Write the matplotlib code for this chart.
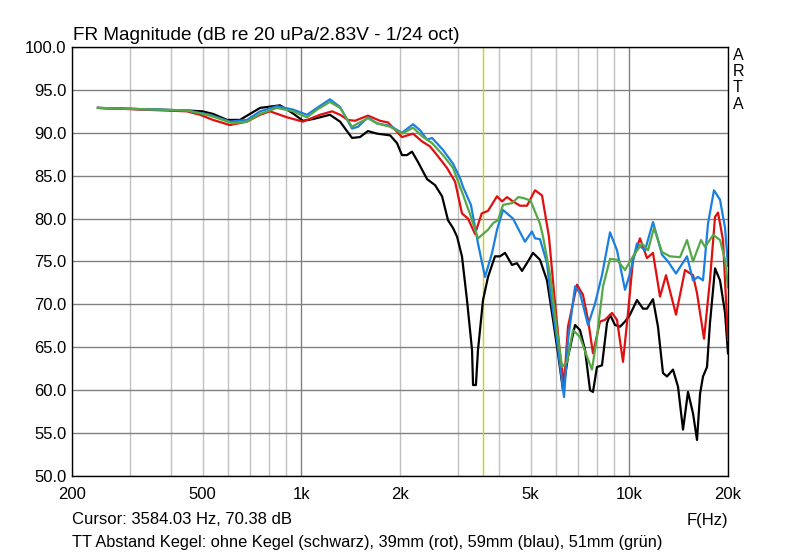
import matplotlib.pyplot as plt
from matplotlib.ticker import FixedLocator, FixedFormatter, NullFormatter

plt.rcParams["font.family"] = ["Liberation Sans", "DejaVu Sans"]

# ARTA-Messung, Werte (Hz, dB)
black_f = [240, 448, 500, 538, 594, 650, 749, 861, 940, 1012, 1086, 1223, 1313, 1428,
           1510, 1597, 1702, 1866, 1958, 2028, 2100, 2176, 2269, 2418, 2558, 2687, 2802,
           2902, 2985, 3090, 3201, 3316, 3340, 3408, 3458, 3582, 3710, 3896, 4036, 4181,
           4390, 4546, 4710, 4911, 5088, 5343, 5613, 5856, 6063, 6281, 6504, 6836, 7078,
           7330, 7593, 7751, 7971, 8258, 8552, 8737, 9047, 9372, 9707, 10052, 10558,
           11012, 11324, 11814, 12234, 12670, 13032, 13594, 14082, 14584, 15102, 15644,
           16090, 16440, 16782, 17260, 17620, 18260, 18910, 19590, 20000]
black_db = [92.9, 92.6, 92.5, 92.2, 91.5, 91.5, 92.9, 93.2, 92.3, 91.4, 91.6, 92.1, 91.3,
            89.4, 89.5, 90.2, 89.9, 89.7, 88.8, 87.4, 87.4, 87.8, 86.6, 84.6, 83.9, 82.6,
            79.8, 78.9, 77.9, 75.6, 70.5, 64.7, 60.6, 60.6, 64.7, 70.5, 73.2, 75.6, 75.6,
            76.0, 74.6, 74.8, 73.9, 75.0, 76.0, 75.2, 72.8, 68.2, 64.3, 60.0, 63.9, 67.6,
            67.0, 64.7, 60.0, 59.8, 62.7, 62.9, 67.8, 68.8, 67.6, 67.4, 68.0, 68.8, 70.5,
            69.5, 69.5, 70.6, 67.4, 62.0, 61.6, 62.4, 60.4, 55.4, 59.8, 57.3, 54.2, 59.6,
            61.6, 62.7, 67.8, 74.2, 72.8, 69.0, 64.3]

red_f = [240, 448, 491, 538, 606, 683, 749, 803, 905, 1012, 1141, 1241, 1313, 1388, 1458,
         1597, 1738, 1839, 2028, 2192, 2334, 2470, 2594, 2782, 2944, 3090, 3224, 3387,
         3549, 3710, 3952, 4093, 4239, 4421, 4643, 4877, 5160, 5420, 5690, 5940, 6149,
         6325, 6504, 6927, 7228, 7487, 7751, 8144, 8433, 8860, 9176, 9571, 9912, 10266,
         10780, 11324, 11814, 12410, 12942, 13884, 14790, 15644, 16090, 16900, 17620,
         18260, 18644, 19312, 20000]
red_db = [92.9, 92.5, 92.1, 91.5, 90.9, 91.3, 92.1, 92.5, 91.8, 91.3, 92.1, 92.5, 92.1,
          91.5, 91.4, 92.0, 91.4, 91.2, 89.5, 89.9, 89.0, 88.4, 87.4, 85.9, 84.3, 80.6,
          80.0, 78.2, 80.6, 80.9, 82.6, 82.0, 82.5, 82.0, 81.5, 81.5, 83.3, 82.7, 77.9,
          70.1, 64.3, 60.6, 67.4, 72.3, 71.1, 68.2, 64.3, 68.0, 68.2, 69.0, 68.2, 63.3,
          69.0, 75.2, 77.7, 75.4, 76.0, 70.9, 73.4, 68.8, 74.0, 73.4, 71.3, 66.0, 72.8,
          80.2, 80.7, 77.5, 65.8]

blue_f = [240, 448, 527, 606, 683, 749, 843, 944, 1041, 1117, 1223, 1313, 1428, 1489,
          1597, 1702, 1866, 2028, 2192, 2302, 2418, 2504, 2705, 2902, 3049, 3112, 3290,
          3458, 3632, 3817, 3952, 4122, 4421, 4809, 5051, 5160, 5343, 5613, 5733, 6021,
          6325, 6504, 6836, 7078, 7487, 7863, 8258, 8737, 9176, 9707, 10052, 10558, 11170,
          11814, 12582, 13126, 13884, 14998, 15644, 16202, 16782, 17380, 18126, 18910,
          19590, 20000]
blue_db = [92.9, 92.6, 92.1, 91.3, 91.5, 92.5, 93.1, 92.7, 92.1, 92.9, 93.9, 93.0, 90.5,
           90.7, 91.8, 91.1, 90.8, 90.0, 91.0, 90.3, 89.2, 89.4, 88.0, 86.4, 84.7, 83.7,
           81.6, 77.1, 73.2, 76.0, 78.7, 81.0, 80.0, 77.3, 78.5, 77.7, 77.6, 74.8, 71.7,
           65.8, 59.2, 65.8, 72.1, 71.3, 67.6, 70.1, 73.4, 78.4, 76.3, 71.7, 73.6, 77.1,
           76.3, 79.6, 75.8, 75.0, 73.6, 75.6, 72.8, 73.2, 72.8, 79.4, 83.3, 82.2, 78.9,
           74.5]

green_f = [240, 448, 527, 619, 683, 749, 843, 944, 1041, 1117, 1223, 1313, 1428, 1489,
           1597, 1702, 1866, 2028, 2192, 2334, 2504, 2705, 2902, 3112, 3271, 3458, 3710,
           3852, 3980, 4122, 4390, 4588, 4753, 5000, 5160, 5343, 5458, 5733, 6021, 6236,
           6458, 6736, 7078, 7433, 7698, 7971, 8316, 8737, 9176, 9707, 10266, 10936,
           11404, 11896, 12582, 13310, 14280, 14998, 15644, 16546, 17020, 18036, 18910,
           19590, 20000]
green_db = [92.9, 92.6, 92.0, 91.1, 91.3, 92.2, 92.9, 92.5, 91.8, 92.7, 93.6, 92.9, 90.7,
            91.1, 91.7, 91.1, 90.7, 89.9, 90.6, 89.6, 88.8, 87.4, 85.9, 82.8, 80.5, 77.7,
            78.7, 79.5, 79.8, 81.6, 81.8, 82.5, 82.4, 82.1, 80.8, 79.4, 77.9, 73.5, 67.0,
            62.7, 63.3, 67.0, 66.2, 63.9, 62.4, 66.2, 72.1, 75.3, 75.2, 74.0, 75.6, 77.1,
            76.3, 78.9, 76.1, 75.6, 75.5, 77.5, 75.0, 77.5, 76.7, 78.1, 77.5, 75.2, 72.0]

cursor_hz = 3584.03
cursor_db = 70.38

x_labels = ["200", "500", "1k", "2k", "5k", "10k", "20k"]
x_label_pos = [200, 500, 1000, 2000, 5000, 10000, 20000]
x_minor = [300, 400, 600, 700, 800, 900, 3000, 4000, 6000, 7000, 8000, 9000]
y_ticks = [50, 55, 60, 65, 70, 75, 80, 85, 90, 95, 100]

fig = plt.figure(figsize=(8, 5.56), dpi=100)
ax = fig.add_axes([0.09, 0.1439, 0.82, 0.7716])

ax.set_xscale("log")
ax.set_xlim(200, 20000)
ax.set_ylim(50, 100)

ax.xaxis.set_major_locator(FixedLocator(x_label_pos))
ax.xaxis.set_major_formatter(FixedFormatter(x_labels))
ax.xaxis.set_minor_locator(FixedLocator(x_minor))
ax.xaxis.set_minor_formatter(NullFormatter())
ax.set_yticks(y_ticks)
ax.set_yticklabels([f"{v:.1f}" for v in y_ticks])

ax.tick_params(which="both", length=0)
ax.tick_params(axis="x", pad=8, labelsize=12)
ax.tick_params(axis="y", pad=4, labelsize=12)

ax.grid(axis="x", which="both", color="#c0c0c0", linewidth=1.0)
ax.grid(axis="y", which="major", color="#808080", linewidth=1.0)
for pos, gl in zip(x_label_pos, ax.xaxis.get_gridlines()):
    if pos in (1000, 10000):
        gl.set_color("#808080")
ax.set_axisbelow(True)

for sp in ax.spines.values():
    sp.set_color("black")
    sp.set_linewidth(1.0)

ax.axvline(cursor_hz, color="#d8d000", linewidth=1.0, zorder=1.5)

ax.plot(black_f, black_db, color="black", lw=1.6)
ax.plot(red_f, red_db, color="#e01010", lw=1.6)
ax.plot(blue_f, blue_db, color="#1a80e0", lw=1.6)
ax.plot(green_f, green_db, color="#55a845", lw=1.6)

fig.text(73 / 800, 1 - 40 / 556, "FR Magnitude (dB re 20 uPa/2.83V - 1/24 oct)",
         fontsize=13.7, va="baseline", ha="left")

for i, ch in enumerate("ARTA"):
    fig.text(733 / 800, 1 - (55 + i * 16.5) / 556, ch, fontsize=11.5,
             va="center", ha="left")

fig.text(72 / 800, 1 - 520 / 556, f"Cursor: {cursor_hz:.2f} Hz, {cursor_db:.2f} dB",
         fontsize=12, va="center", ha="left")
fig.text(728 / 800, 1 - 520 / 556, "F(Hz)", fontsize=12, va="center", ha="right")
fig.text(72 / 800, 1 - 543 / 556,
         "TT Abstand Kegel: ohne Kegel (schwarz), 39mm (rot), 59mm (blau), 51mm (grün)",
         fontsize=11.8, va="center", ha="left")

fig.savefig("out.png", dpi=100, facecolor="white")
